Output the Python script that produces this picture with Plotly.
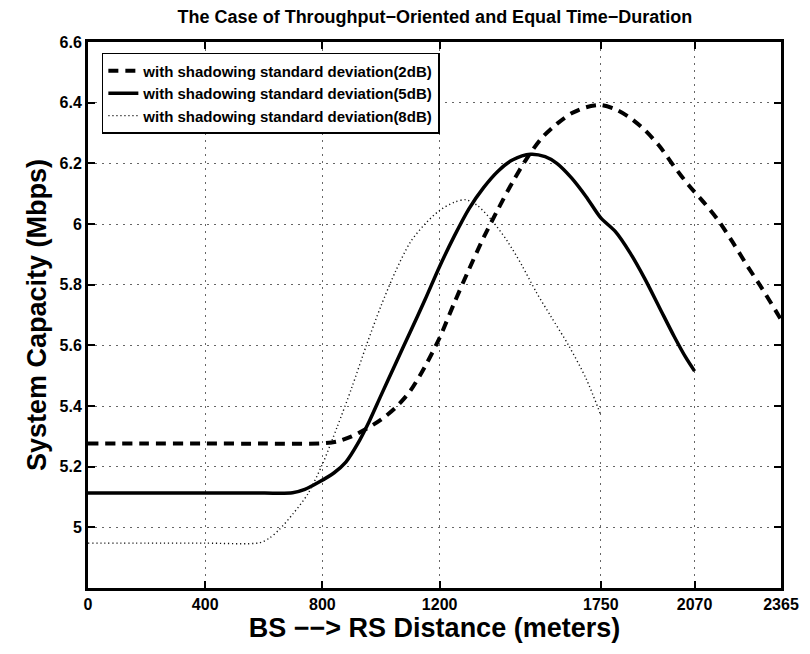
import plotly.graph_objects as go

# ---- data ----
x_2db = [0, 200, 400, 600, 800, 850, 900, 950, 1000, 1050, 1100, 1150, 1200, 1250, 1300, 1350,
         1400, 1450, 1500, 1550, 1600, 1650, 1700, 1750, 1800, 1850, 1900, 1950, 2000, 2050,
         2100, 2150, 2200, 2250, 2300, 2365]
y_2db = [5.276, 5.276, 5.276, 5.276, 5.277, 5.283, 5.30, 5.325, 5.355, 5.395, 5.45, 5.53, 5.625,
         5.74, 5.85, 5.955, 6.05, 6.14, 6.22, 6.285, 6.33, 6.365, 6.385, 6.392, 6.378, 6.35,
         6.31, 6.257, 6.19, 6.128, 6.073, 6.013, 5.94, 5.862, 5.788, 5.685]

x_5db = [0, 200, 400, 600, 698, 740, 790, 840, 880, 920, 960, 1000, 1050, 1100, 1150, 1200,
         1250, 1300, 1350, 1400, 1450, 1510, 1560, 1600, 1650, 1700, 1750, 1800, 1850, 1900,
         1950, 2000, 2040, 2070]
y_5db = [5.113, 5.113, 5.113, 5.113, 5.114, 5.125, 5.15, 5.18, 5.215, 5.275, 5.35, 5.435, 5.54,
         5.645, 5.75, 5.86, 5.96, 6.05, 6.12, 6.175, 6.212, 6.23, 6.222, 6.20, 6.152, 6.09,
         6.02, 5.975, 5.905, 5.82, 5.725, 5.63, 5.56, 5.515]

x_8db = [0, 200, 400, 585, 620, 653, 700, 750, 800, 850, 900, 950, 1000, 1050, 1100, 1150, 1200,
         1250, 1290, 1330, 1380, 1430, 1480, 1530, 1580, 1640, 1700, 1750]
y_8db = [4.948, 4.948, 4.948, 4.949, 4.965, 4.993, 5.045, 5.11, 5.208, 5.33, 5.46, 5.60, 5.73,
         5.845, 5.94, 6.00, 6.045, 6.072, 6.08, 6.06, 6.01, 5.945, 5.865, 5.775, 5.695, 5.60,
         5.49, 5.37]

names = ["with shadowing standard deviation(2dB)",
         "with shadowing standard deviation(5dB)",
         "with shadowing standard deviation(8dB)"]

x_ticks = [0, 400, 800, 1200, 1750, 2070, 2365]
y_ticks = [5, 5.2, 5.4, 5.6, 5.8, 6, 6.2, 6.4, 6.6]
y_tick_text = ["5", "5.2", "5.4", "5.6", "5.8", "6", "6.2", "6.4", "6.6"]

FONT = "Liberation Sans, Arial, Helvetica, sans-serif"

fig = go.Figure()
fig.add_trace(go.Scatter(x=x_2db, y=y_2db, mode="lines", name=names[0],
                         line=dict(color="black", width=4, dash="10px,7px", shape="spline", smoothing=0.8)))
fig.add_trace(go.Scatter(x=x_5db, y=y_5db, mode="lines", name=names[1],
                         line=dict(color="black", width=3.5, shape="spline", smoothing=0.8)))
fig.add_trace(go.Scatter(x=x_8db, y=y_8db, mode="lines", name=names[2],
                         line=dict(color="#111", width=1.4, dash="1.2px,2.8px", shape="spline", smoothing=0.8)))

axis_common = dict(
    showline=True, linecolor="black", linewidth=3, mirror="ticks",
    ticks="inside", ticklen=7, tickwidth=2, tickcolor="black",
    showgrid=True, gridcolor="#666666", gridwidth=1, griddash="1.5px,5.5px",
    zeroline=False,
    tickfont=dict(family=FONT, size=16, color="black", weight="bold"),
)

fig.update_xaxes(range=[0, 2365], tickmode="array", tickvals=x_ticks,
                 ticktext=[str(v) for v in x_ticks],
                 title=dict(text="BS −−> RS Distance (meters)", standoff=4,
                            font=dict(family=FONT, size=27, color="black", weight="bold")),
                 **axis_common)
fig.update_yaxes(range=[4.8, 6.6], tickmode="array", tickvals=y_ticks, ticktext=y_tick_text,
                 title=dict(text="System Capacity (Mbps)", standoff=6,
                            font=dict(family=FONT, size=27, color="black", weight="bold")),
                 **axis_common)

fig.update_layout(
    width=810, height=654,
    margin=dict(l=88, r=29, t=42, b=66),
    paper_bgcolor="white", plot_bgcolor="white",
    title=dict(text="The Case of Throughput−Oriented and Equal Time−Duration",
               x=0.537, xanchor="center", y=0.974, yanchor="middle",
               font=dict(family=FONT, size=18, color="black", weight="bold")),
    legend=dict(x=0.02, y=0.98, xanchor="left", yanchor="top",
                bgcolor="white", bordercolor="black", borderwidth=1.5,
                font=dict(family=FONT, size=15, color="black", weight="bold"),
                tracegroupgap=0, itemwidth=30),
    showlegend=True,
)

fig.write_html("out.html")
